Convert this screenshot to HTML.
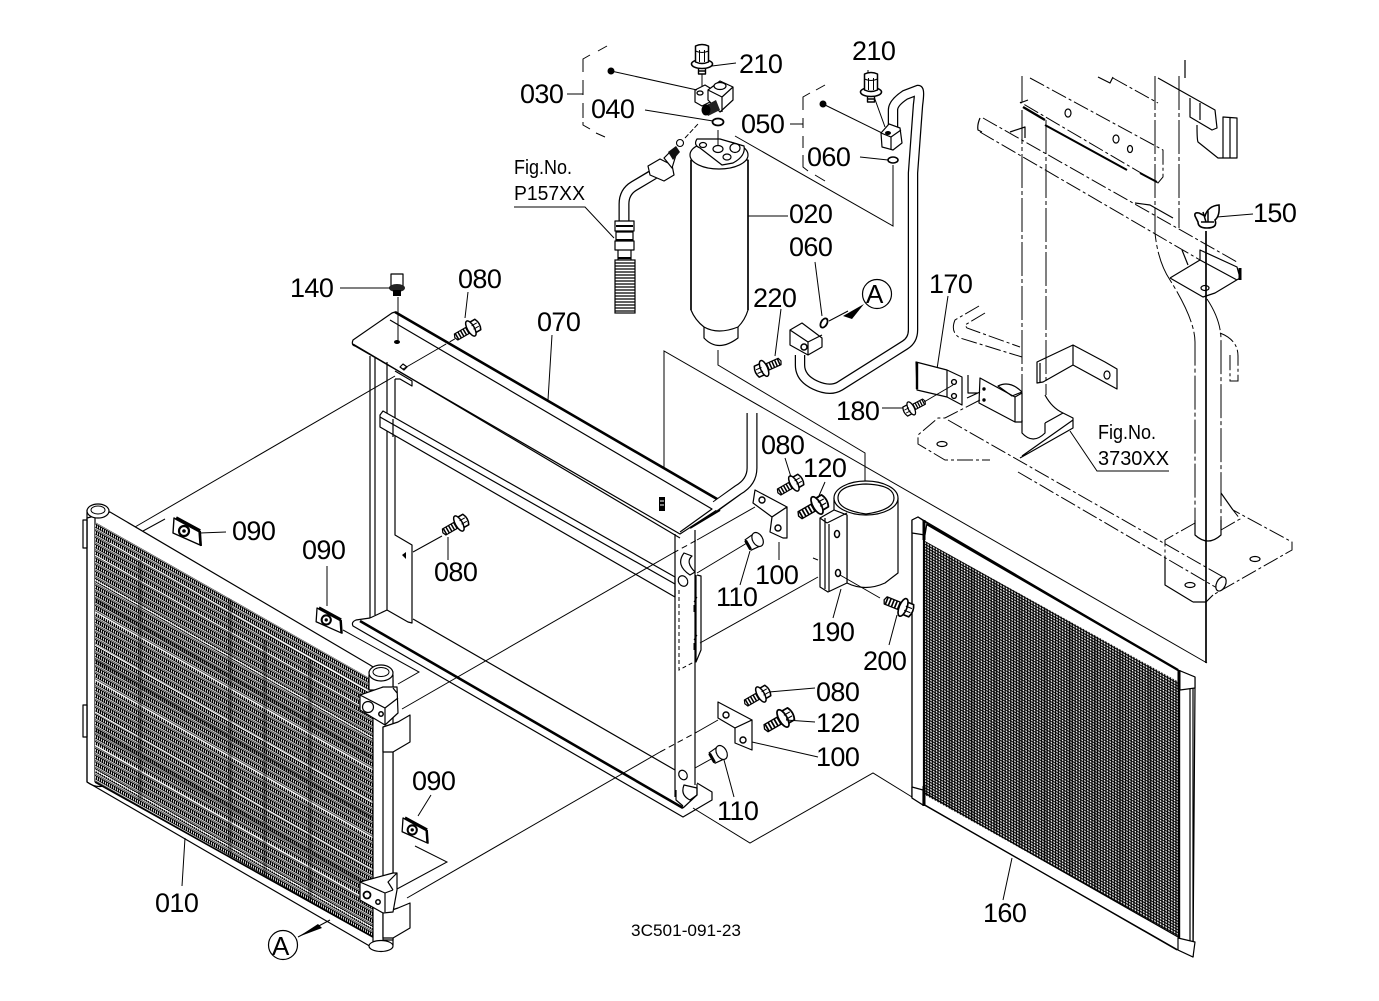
<!DOCTYPE html>
<html><head><meta charset="utf-8"><style>
html,body{margin:0;padding:0;background:#fff}
svg{display:block}
text{font-family:"Liberation Sans",sans-serif;fill:#000;stroke:none}
.l{font-size:27px;letter-spacing:-.6px}
.f{font-size:20px}
.s{fill:none;stroke:#000;stroke-width:1.2;stroke-linejoin:round}
.t{fill:none;stroke:#000;stroke-width:1}
.k{fill:none;stroke:#000;stroke-width:2.6}
.d{fill:none;stroke:#000;stroke-width:1;stroke-dasharray:34 3 4 3}
.e{fill:none;stroke:#000;stroke-width:1;stroke-dasharray:16 3 3 3}
.w{fill:#fff;stroke:#000;stroke-width:1.2;stroke-linejoin:round}
</style></head><body>
<svg width="1379" height="1001" viewBox="0 0 1379 1001" xmlns="http://www.w3.org/2000/svg">
<defs>
<pattern id="fin" width="2" height="6.8" patternUnits="userSpaceOnUse" patternTransform="skewY(29.6)">
<rect width="2" height="6.8" fill="#fff"/>
<rect x="0" y="0" width="1.2" height="4.4" fill="#000"/>
<rect x="0" y="0" width="2" height="1" fill="#000"/>
<rect x="0" y="3.6" width="2" height=".9" fill="#000"/>
<rect x="0" y="5.5" width="2" height=".7" fill="#000"/>
</pattern>
<pattern id="mesh" width="2.8" height="2.8" patternUnits="userSpaceOnUse" patternTransform="skewY(29.3)">
<rect width="2.8" height="2.8" fill="#000"/>
<rect x=".6" y=".6" width="1.55" height="1.55" fill="#fff"/>
</pattern>
<clipPath id="cf"><polygon points="95,522 373,680 373,938 95,782"/></clipPath>
<clipPath id="cm"><polygon points="925,541 1179,682 1179,937 925,795"/></clipPath>
<g id="bolt">
<path class="w" d="M0,-3.5H16L17.5,0L16,3.5H0Z"/>
<path class="t" d="M3,-3.5V3.5M6,-3.5V3.5M9,-3.5V3.5M12,-3.5V3.5M15,-3.5V3.5" style="stroke-width:1.5"/>
<path class="w" d="M-9,-6Q-12,0 -9,6L-2,6V-6Z" style="stroke-width:1.5"/>
<ellipse class="w" cx="-1" cy="0" rx="3.5" ry="8.5" style="stroke-width:1.5"/>
<path class="t" d="M-9,-2H-3M-9,2H-3"/>
</g>
<g id="vbolt">
<path class="w" d="M-3.5,18H3.5V30H-3.5Z" style="stroke-width:1.4"/>
<path class="t" d="M-3.5,21H3.5M-3.5,24H3.5M-3.5,27H3.5" style="stroke-width:1.4"/>
<ellipse class="w" cx="0" cy="20" rx="10.5" ry="4.5" style="stroke-width:1.6"/>
<path class="w" d="M-6.5,2Q0,-1 6.5,2V18Q0,21 -6.5,18Z" style="stroke-width:1.5"/>
<path class="t" d="M-2.5,6V18M2.5,6V18M-6.5,7Q0,10 6.5,7"/>
</g>
<g id="nut">
<path class="w" d="M-8,-6L3,-7Q9,0 3,7L-8,6Z"/>
<ellipse class="w" cx="3" cy="0" rx="5" ry="7.5"/>
<path class="k" d="M-8,-5V5" style="stroke-width:3"/>
</g>
<g id="clip">
<path class="w" d="M-13,-12L12,1L13,15L-14,3Z" style="stroke-width:1.4"/>
<path class="k" d="M-11,-12L13,1" style="stroke-width:3.6"/>
<path class="k" d="M13,1L14,16" style="stroke-width:2"/>
<circle cx="-3" cy="1" r="5" fill="#fff" stroke="#000" stroke-width="2.2"/>
<circle cx="-3" cy="1" r="1.8" fill="#000"/>
</g>
</defs>
<rect width="1379" height="1001" fill="#fff"/>

<!-- BACK STRUCTURE -->
<g class="d">
<path d="M1022,76V102M1022,110V418"/>
<path d="M1046,120V395"/>
<path d="M1155,76V233Q1158,262 1170,280Q1195,320 1195,342V535"/>
<path d="M1179,76V228"/>
<path d="M1207,299Q1221,320 1221,340V531"/>
</g>
<g class="e">
<path d="M1030,78L1163,150V177L1158,183L1020,102"/>
<path d="M1113,78L1158,103"/>
<path d="M983,118L1237,262M980,132L1200,260"/>
<path d="M948,420L1225,578M1018,472L1217,588"/>
<path d="M1220,333Q1238,340 1238,356V381H1230V355"/>
<path d="M985,313L965,325L967,328L1020,347"/>
<path d="M979,306L955,320Q950,332 960,338L1022,357"/>
<path d="M980,400L945,418L938,418L918,435V444L945,460H990"/>
<path d="M1195,523L1165,540V558M1221,530L1240,519L1233,510L1292,542V550L1213,595"/>
</g>
<path class="s" d="M1165,558V585L1193,602M1193,602H1206L1213,595"/>
<path class="s" d="M1221,493L1233,510"/>
<path class="s" d="M980,118Q977,125 978,130L982,132"/>
<path class="k" d="M1023,107L1045,120" style="stroke-width:2.4"/>
<path class="k" d="M1045,125L1127,170M1140,173L1157,182" style="stroke-width:2"/>
<path class="s" d="M1020,103L1028,100"/>
<path class="s" d="M1158,78L1215,110L1217,128L1212,130L1190,117V98M1200,103V120M1197,125Q1197,140 1198,142L1218,158H1237V118L1223,117V158M1230,118V158"/>
<path class="s" d="M1098,77L1110,83L1113,77M1185,60V78"/>
<path class="s" d="M1010,132L1025,127V138M1135,203L1150,205L1173,218"/>
<ellipse class="s" cx="1068" cy="113" rx="3" ry="4"/><ellipse class="s" cx="1116" cy="139" rx="3" ry="4"/><ellipse class="s" cx="1130" cy="149" rx="2.5" ry="3.5"/>
<path class="s" d="M1170,278L1200,260V250L1237,267L1240,278L1215,293L1203,297L1170,278M1200,260L1237,280"/>
<path class="s" d="M1182,250L1188,265"/>
<path class="k" d="M1240,268V280" style="stroke-width:3"/>
<ellipse class="s" cx="1205" cy="288" rx="4" ry="2.5"/>
<path class="s" d="M1037,362L1073,345L1105,362L1117,369V389L1073,365L1043,382L1037,383ZM1073,345V365M1040,363V383"/>
<ellipse class="s" cx="1107" cy="375" rx="3" ry="4"/>
<path class="s" d="M980,378L1015,397L1022,393V422H1015L979,403Z M1015,397V422"/>
<path class="s" d="M998,386Q1010,380 1022,392L1012,396Z"/>
<circle cx="984" cy="389" r="1.7"/><circle cx="984" cy="400" r="1.7"/>
<path class="s" d="M968,375V393L978,393M967,398L980,392"/>
<path class="s" d="M1022,420V433Q1033,445 1045,433V423"/>
<path class="s" d="M1045,395Q1052,408 1063,413L1073,418V428L1020,458M1045,423L1063,413M1073,420L1022,456"/>
<ellipse class="s" cx="942" cy="444" rx="5" ry="2.5"/>
<path class="s" d="M1195,520V535Q1208,547 1221,535V520"/>
<ellipse class="s" cx="1255" cy="559" rx="5" ry="2.5"/><ellipse class="s" cx="1190" cy="585" rx="5" ry="2.5"/>
<ellipse class="w" cx="1221" cy="584" rx="4.5" ry="7.5" transform="rotate(25 1221 584)"/>
<path class="k" d="M1206,231V663" style="stroke-width:1.7"/>
<path d="M1195,216Q1194,212 1199,213L1205,216Q1208,206 1219,205Q1220,216 1215,220Q1218,228 1207,228Q1198,228 1198,222Z" fill="#fff" stroke="#000" stroke-width="1.6"/>
<path d="M1203,212L1206,222M1208,211V222M1201,222H1214" stroke="#000" stroke-width="1.5"/>
<path class="t" d="M1217,217L1253,214"/>

<!-- LONG THIN LINES -->
<path class="t" d="M664,497V351L1207,663"/>
<path class="t" d="M718,350V365L865,453V513"/>
<path class="t" d="M735,136L893,226V165"/>

<!-- FRAME 070 -->
<path class="w" d="M392,313L353,340Q351,345 355,346L680,534L720,508Q722,503 717,499L395,312Z"/>
<path class="s" d="M390,320L712,509L680,532M353,344L680,538"/>
<path class="k" d="M395,312L717,499Q722,503 720,508"/>
<path class="k" d="M690,528L720,510" style="stroke-width:2"/>
<path class="s" d="M370,356V618M375,358V615M387,362V610"/>
<path class="s" d="M395,379H400L412,386V381L395,371M395,379V535L412,545V623L408,622L387,610L370,618"/>
<path class="w" d="M383,411L675,577V597L380,427V415Z"/>
<path class="s" d="M380,417L675,584M393,437V419"/>
<path class="s" d="M413,619L675,770M675,597V534M675,534V797M695,530V785"/>
<path class="s" d="M697,783L712,792V800L683,817L353,626Q351,622 356,620L370,618"/>
<path class="k" d="M360,621L683,808" />
<path class="s" d="M676,790V800L683,806"/>
<path class="s" d="M697,784L697,795L683,808"/>
<path class="s" d="M684,553Q675,565 690,575L695,572Q685,562 692,556ZM684,785Q680,795 690,800L697,795V788Z"/>
<ellipse class="s" cx="683" cy="581" rx="4.5" ry="5.5" transform="rotate(-30 683 581)"/>
<ellipse class="s" cx="683" cy="775" rx="4" ry="5" transform="rotate(-30 683 775)"/>
<path class="s" d="M697,575L701,576V650L696,662V575"/>
<path class="t" d="M679,590V670L694,662" stroke-dasharray="4 3"/>
<path class="t" d="M694,602L697,597M694,605V612M694,640L697,635M694,643V650"/>
<ellipse cx="397" cy="342" rx="3" ry="2" fill="#000"/>
<path class="s" d="M404,370l-4,-3 3,-3 4,3z"/>
<path d="M402,555l4,-3v7z" fill="#000"/>
<path class="t" d="M398,297V341"/>

<!-- leaders through frame -->
<path class="t" d="M135,527L395,376M403,369L441,347" />
<path class="t" d="M441,347L458,337" stroke-dasharray="6 4"/>
<path class="t" d="M413,552L442,536"/>
<path class="t" d="M402,709L673,553"/>
<path class="t" d="M673,553L697,540" stroke-dasharray="6 4"/>
<path class="t" d="M697,540L755,507"/>
<path class="t" d="M697,573L752,540"/>
<path class="t" d="M700,643L818,577"/>
<path class="t" d="M407,898L660,752"/>
<path class="t" d="M660,752L697,732" stroke-dasharray="6 4"/>
<path class="t" d="M697,732L718,720"/>
<path class="t" d="M695,768L713,758"/>
<path class="t" d="M693,808L750,843L873,773L912,797"/>
<path class="t" d="M343,630L419,672L398,684"/>
<path class="t" d="M415,846L447,862L397,889"/>
<path class="t" d="M165,519L132,537"/>

<!-- small screw on frame -->
<path d="M659,497h6v14h-6z" fill="#000"/><path d="M660,501h4M660,505h4" stroke="#fff"/>

<!-- frame pipe -->
<path d="M752,413V468Q752,482 738,490L716,506" fill="none" stroke="#000" stroke-width="11"/>
<path d="M752,411V468Q752,482 738,490L714,507" fill="none" stroke="#fff" stroke-width="8.6"/>

<!-- CONDENSER -->
<path class="w" d="M87,518L110,512L370,665L393,680V945L373,948L87,782Z"/>
<path class="w" d="M83,520H87V548H83ZM83,705H87V737H83Z"/>
<path class="s" d="M87,510V782Q95,788 104,786M95,515V782"/>
<ellipse class="w" cx="98" cy="511" rx="11" ry="7"/>
<ellipse class="t" cx="98" cy="510" rx="7" ry="4"/>
<rect x="80" y="500" width="310" height="460" fill="url(#fin)" clip-path="url(#cf)"/>
<g clip-path="url(#cf)" fill="none">
<g stroke="#fff" stroke-width="1">
<path d="M110,543L373,694M95,555L373,713M95,580L373,738M95,612L373,770M95,645L373,803M95,680L373,838M95,712L373,870M95,745L373,903M95,770L373,928"/>
</g>
<g stroke="#000" stroke-width="4" opacity=".3">
<path d="M95,600L373,758M95,660L373,818M95,730L373,888"/>
<path d="M230,590V860M140,560V800M265,640V880M310,660V900"/>
</g>
</g>
<path class="k" d="M95,782L373,937" style="stroke-width:1.6"/>
<path class="w" d="M373,680V945"/>
<ellipse class="w" cx="381" cy="946" rx="12" ry="5.5"/>
<path class="w" d="M383,727V940H393V727Z"/>
<path class="w" d="M369,675V690L393,690V675Z"/>
<ellipse class="w" cx="381" cy="673" rx="12" ry="8"/>
<ellipse class="t" cx="381" cy="672" rx="8" ry="4.5"/>
<path class="w" d="M360,695L383,687L397,687L398,713L385,725L360,710Z"/>
<path class="s" d="M360,695L385,708L398,698M385,708V725M393,688L397,693"/>
<circle class="s" cx="368" cy="707" r="5.5"/><circle cx="381" cy="714" r="2.2" fill="none" stroke="#000" stroke-width="1.5"/>
<path class="w" d="M383,727L398,722L410,715V742L393,752H383Z"/>
<path class="w" d="M383,913L398,908L410,903V928L393,938H383Z"/>
<path class="w" d="M360,882L393,873L397,873V890L393,912L383,913L360,900Z"/>
<path class="s" d="M360,882L385,893L393,890M385,893V912M397,873L388,882L393,890"/>
<circle cx="367" cy="895" r="3.5" fill="none" stroke="#000" stroke-width="1.8"/><circle cx="378" cy="902" r="2.2" fill="none" stroke="#000" stroke-width="1.5"/>

<!-- clips -->
<use href="#clip" transform="translate(187,530)"/>
<use href="#clip" transform="translate(329,619) scale(.92)"/>
<use href="#clip" transform="translate(415,829) scale(.92)"/>

<!-- SCREEN 160 -->
<path class="w" d="M912,520L918,517L1178,670L1195,677V688L1193,957L1178,950L912,798Z"/>
<rect x="905" y="530" width="290" height="420" fill="url(#mesh)" clip-path="url(#cm)"/>
<g clip-path="url(#cm)" stroke="#000" stroke-width="3" opacity=".25" fill="none">
<path d="M950,540V820M972,550V830M995,570V850M1020,580V860M1045,600V880M1070,620V900M1095,630V910M1120,650V930M1150,660V940"/>
</g>
<path class="k" d="M924,520V806" style="stroke-width:2.2"/>
<path class="k" d="M925,523L1178,670M1179,672V950" style="stroke-width:2.4"/>
<path class="s" d="M925,793L1178,937M925,805L1177,950"/>
<path class="s" d="M912,520V798L923,805M1190,680V952M1193,678V957"/>
<path class="w" d="M912,520L918,517L927,523L925,535L912,533Z"/>
<path class="w" d="M912,787L923,790V805L912,798Z"/>
<path class="w" d="M1178,670L1195,677V688L1180,690Z"/>
<path class="w" d="M1178,938L1195,942L1193,957L1178,950Z"/>
<path class="k" d="M1179,670V690M924,786V806M924,520V540" style="stroke-width:3"/>

<!-- CLAMP 190 -->
<path class="w" d="M834,498V510L847,515V583Q865,592 885,583L898,573V498Z"/>
<ellipse class="w" cx="866" cy="498" rx="32" ry="17"/>
<path class="s" d="M838,498Q838,485 866,484Q894,485 894,498Q894,510 866,514Q838,510 838,498Z"/>
<path class="w" d="M820,518L834,510L847,515V583L828,592L820,587Z"/>
<path class="s" d="M825,518V589M827,523L847,513M829,524V592M820,518L827,523"/>
<ellipse cx="837" cy="534" rx="2.5" ry="3.5" fill="none" stroke="#000" stroke-width="1.5"/>
<ellipse cx="838" cy="573" rx="2.5" ry="3.5" fill="none" stroke="#000" stroke-width="1.5"/>
<path class="t" d="M818,560L813,558M840,575L880,598"/>
<path class="t" d="M841,589L833,618M897,615L889,645"/>
<use href="#bolt" transform="translate(902,607) rotate(202) scale(1.1)"/>

<!-- BRACKETS 100 -->
<path class="w" d="M755,490L787,507L772,517L753,503Z"/>
<path class="w" d="M772,517L787,507V538H783L770,532Z"/>
<circle cx="762" cy="500" r="3" fill="none" stroke="#000" stroke-width="1.4"/>
<circle cx="778" cy="528" r="3" fill="none" stroke="#000" stroke-width="1.4"/>
<path class="w" d="M718,702L752,720L735,728L718,718Z"/>
<path class="w" d="M735,728L752,720V750L735,743Z"/>
<circle cx="726" cy="715" r="3" fill="none" stroke="#000" stroke-width="1.4"/>
<circle cx="743" cy="740" r="3" fill="none" stroke="#000" stroke-width="1.4"/>
<path class="t" d="M779,542V560M752,742L818,757"/>

<!-- bolts -->
<use href="#bolt" transform="translate(470,329) rotate(150)"/>
<use href="#bolt" transform="translate(458,524) rotate(150)"/>
<use href="#bolt" transform="translate(793,484) rotate(150)"/>
<use href="#bolt" transform="translate(816,506) rotate(150) scale(1.15)"/>
<use href="#bolt" transform="translate(760,695) rotate(150)"/>
<use href="#bolt" transform="translate(782,719) rotate(150) scale(1.15)"/>
<use href="#bolt" transform="translate(765,368) rotate(-24)"/>
<use href="#bolt" transform="translate(912,408) rotate(-28) scale(.85)"/>
<use href="#nut" transform="translate(755,541) rotate(-30)"/>
<use href="#nut" transform="translate(719,754) rotate(-30)"/>
<path class="t" d="M468,292L465,318M785,458L791,477M825,482L818,498M750,551L740,585M724,760L734,797"/>
<path class="t" d="M769,692L815,688M786,720L815,722M327,566V606M431,795L418,816M185,838L182,886M1012,858L1003,900M200,533L226,532M552,335L548,400"/>
<path class="t" d="M903,408H882M448,560V537"/>

<!-- RECEIVER 020 -->
<path class="w" d="M691,160V310Q695,320 704,327V338Q718,353 738,338V327Q745,320 748,310V160Z"/>
<path class="s" d="M704,327Q718,335 738,327"/>
<ellipse class="w" cx="719" cy="155" rx="29" ry="14"/>
<path class="w" d="M697,139L720,139L744,146Q746,156 733,163L722,165L700,148Q693,145 697,139Z"/>
<ellipse class="s" cx="718" cy="149" rx="5" ry="3.5"/><ellipse class="s" cx="735" cy="148" rx="5" ry="4.5"/><ellipse class="s" cx="727" cy="157" rx="4" ry="3"/><ellipse class="s" cx="703" cy="145" rx="3.5" ry="2.5"/>
<path class="k" d="M691,160V310M748,160V310" style="stroke-width:1.6"/>
<path class="t" d="M718,130V146"/>
<path class="t" d="M748,216H788"/>
<ellipse cx="718" cy="122" rx="5.5" ry="3.5" fill="none" stroke="#000" stroke-width="1.8"/>
<path class="t" d="M645,110L713,121"/>

<!-- Upper block -->
<path class="w" d="M695,90L705,85L710,88V102L702,106L695,102Z"/>
<path class="w" d="M708,90L720,81L733,87V100L720,112L708,100Z"/>
<path class="s" d="M708,90L722,97L733,87M722,97V112"/>
<ellipse class="w" cx="720" cy="86" rx="6" ry="3.5"/>
<ellipse cx="700" cy="93" rx="3" ry="2" fill="none" stroke="#000" stroke-width="1.3"/>
<path d="M703,107L716,100L720,110L708,116Z" fill="#222"/>
<ellipse cx="706" cy="110" rx="4.5" ry="5.5" fill="#000"/>
<use href="#vbolt" transform="translate(702,44)"/>
<path class="t" d="M712,66L736,63M868,70V80L885,127"/>
<path class="t" d="M702,74V86"/>

<!-- 030 / 050 dashed brackets -->
<path class="t" d="M607,46L598,51M590,55L583,59V72M583,80V95M583,103V118M583,122V125L590,129M596,133L605,137"/>
<path class="t" d="M567,94H583"/>
<circle cx="611" cy="71" r="3.5"/>
<path class="t" d="M611,71L697,90"/>
<path class="t" d="M825,85L816,90M810,93L803,97V110M803,118V128M803,136V148M803,155V167L808,171M815,175L825,181"/>
<path class="t" d="M790,124H803"/>
<circle cx="823" cy="104" r="3.5"/>
<path class="t" d="M823,104L882,133"/>
<path class="t" d="M860,157L888,160"/>
<ellipse cx="893" cy="160" rx="5" ry="3" fill="none" stroke="#000" stroke-width="1.6"/>

<!-- Right pipe -->
<path d="M893,127V110Q893,103 905,95L918,90Q920,90 918,105L913,173V330Q913,340 905,345L840,386Q830,392 815,385Q800,378 800,365V355" fill="none" stroke="#000" stroke-width="10.5"/>
<path d="M893,129V110Q893,103 905,95L918,90Q920,90 918,105L913,173V330Q913,340 905,345L840,386Q830,392 815,385Q800,378 800,365V353" fill="none" stroke="#fff" stroke-width="8"/>
<path class="w" d="M881,133L889,124L900,128L902,143L893,150L882,147Z"/>
<path class="s" d="M881,133L891,137L901,130M891,137V150"/>
<ellipse cx="888" cy="133" rx="3" ry="2" fill="#000"/>
<use href="#vbolt" transform="translate(871,72)"/>
<path class="w" d="M790,330L802,323L822,338V347L808,355L790,345Z"/>
<path class="s" d="M790,330L808,342L822,335M808,342V355"/>
<circle cx="804" cy="347" r="3" fill="none" stroke="#000" stroke-width="1.5"/>
<ellipse cx="824" cy="323" rx="3" ry="5" fill="none" stroke="#000" stroke-width="1.8" transform="rotate(30 824 323)"/>
<path class="t" d="M815,262L822,316"/>
<path class="t" d="M829,321L848,311"/>
<path d="M843,316L864,304L852,319Z" fill="#000"/>
<circle cx="877" cy="294" r="14.5" fill="none" stroke="#000" stroke-width="1.2"/>
<path d="M781,309L775,356" class="t"/>

<!-- Left pipe and hose -->
<path d="M624,222V204Q624,192 634,186L654,174" fill="none" stroke="#000" stroke-width="11"/>
<path d="M624,224V204Q624,192 634,186L656,173" fill="none" stroke="#fff" stroke-width="8.5"/>
<path class="w" d="M648,166L660,159L672,165L674,175L664,181L650,175Z"/>
<path class="w" d="M664,158L672,150L676,155L672,168Z"/>
<path d="M668,152L676,146L680,152L673,160Z" fill="#111"/>
<circle cx="680" cy="143" r="3.5" fill="none" stroke="#000" stroke-width="1.1"/>
<path class="t" d="M685,138L698,124" stroke-dasharray="5 2"/>
<path class="w" d="M615,221H634V231H615ZM616,232H633V240H616ZM615,241H634V250H615ZM618,250H631V260H618Z"/>
<path class="k" d="M616,226H633M616,240H633M618,258H631" style="stroke-width:2"/>
<rect x="615" y="260" width="20" height="53" fill="#fff" stroke="#000" stroke-width="1.2"/>
<path d="M615,263H635M615,266H635M615,269H635M615,272H635M615,275H635M615,278H635M615,281H635M615,284H635M615,287H635M615,290H635M615,293H635M615,296H635M615,299H635M615,302H635M615,305H635M615,308H635M615,311H635" stroke="#000" stroke-width="1.3"/>
<path class="t" d="M514,207H585L614,238"/>

<!-- 3730 leader -->
<path class="t" d="M1070,431L1097,471H1169"/>
<path class="t" d="M948,296L937,369"/>

<!-- 170 plate -->
<path class="w" d="M916,362L947,370L962,377V405L947,397L917,390Z"/>
<path class="s" d="M947,370V397"/>
<path class="k" d="M917,362V389" style="stroke-width:2.4"/>
<circle cx="954" cy="382" r="2.4" fill="none" stroke="#000" stroke-width="1.4"/>
<circle cx="954" cy="396" r="2.4" fill="none" stroke="#000" stroke-width="1.4"/>
<path class="t" d="M924,402L953,385"/>

<!-- 140 bolt -->
<path class="w" d="M391,274H403V286H391Z"/>
<ellipse cx="397" cy="288" rx="8" ry="4" fill="#222"/>
<path d="M393,290h8v6h-8z" fill="#000"/>
<path class="t" d="M340,288H390"/>

<!-- A marker -->
<circle cx="283" cy="945" r="14.5" fill="none" stroke="#000" stroke-width="1.2"/>
<path d="M298,937L318,924L322,928Z" fill="#000"/><path class="t" d="M298,937L330,920"/>

<!-- LABELS -->
<text class="l" x="739" y="73">210</text>
<text class="l" x="852" y="60">210</text>
<text class="l" x="520" y="103">030</text>
<text class="l" x="591" y="118">040</text>
<text class="l" x="741" y="133">050</text>
<text class="l" x="807" y="166">060</text>
<text class="l" x="789" y="223">020</text>
<text class="l" x="789" y="256">060</text>
<text class="l" x="753" y="307">220</text>
<text class="l" x="1253" y="222">150</text>
<text class="l" x="290" y="297">140</text>
<text class="l" x="458" y="288">080</text>
<text class="l" x="537" y="331">070</text>
<text class="l" x="929" y="293">170</text>
<text class="l" x="836" y="420">180</text>
<text class="l" x="232" y="540">090</text>
<text class="l" x="302" y="559">090</text>
<text class="l" x="434" y="581">080</text>
<text class="l" x="412" y="790">090</text>
<text class="l" x="155" y="912">010</text>
<text class="l" x="761" y="454">080</text>
<text class="l" x="803" y="477">120</text>
<text class="l" x="755" y="584">100</text>
<text class="l" x="716" y="606">110</text>
<text class="l" x="811" y="641">190</text>
<text class="l" x="863" y="670">200</text>
<text class="l" x="816" y="701">080</text>
<text class="l" x="816" y="732">120</text>
<text class="l" x="816" y="766">100</text>
<text class="l" x="717" y="820">110</text>
<text class="l" x="983" y="922">160</text>
<text x="866" y="303" font-size="26">A</text>
<text x="272" y="955" font-size="26">A</text>
<text class="f" x="514" y="174" textLength="58" lengthAdjust="spacingAndGlyphs">Fig.No.</text>
<text class="f" x="514" y="200" textLength="71" lengthAdjust="spacingAndGlyphs">P157XX</text>
<text class="f" x="1098" y="439" textLength="58" lengthAdjust="spacingAndGlyphs">Fig.No.</text>
<text class="f" x="1098" y="465" textLength="71" lengthAdjust="spacingAndGlyphs">3730XX</text>
<text x="631" y="936" font-size="17" textLength="110" lengthAdjust="spacingAndGlyphs">3C501-091-23</text>
</svg>
</body></html>
